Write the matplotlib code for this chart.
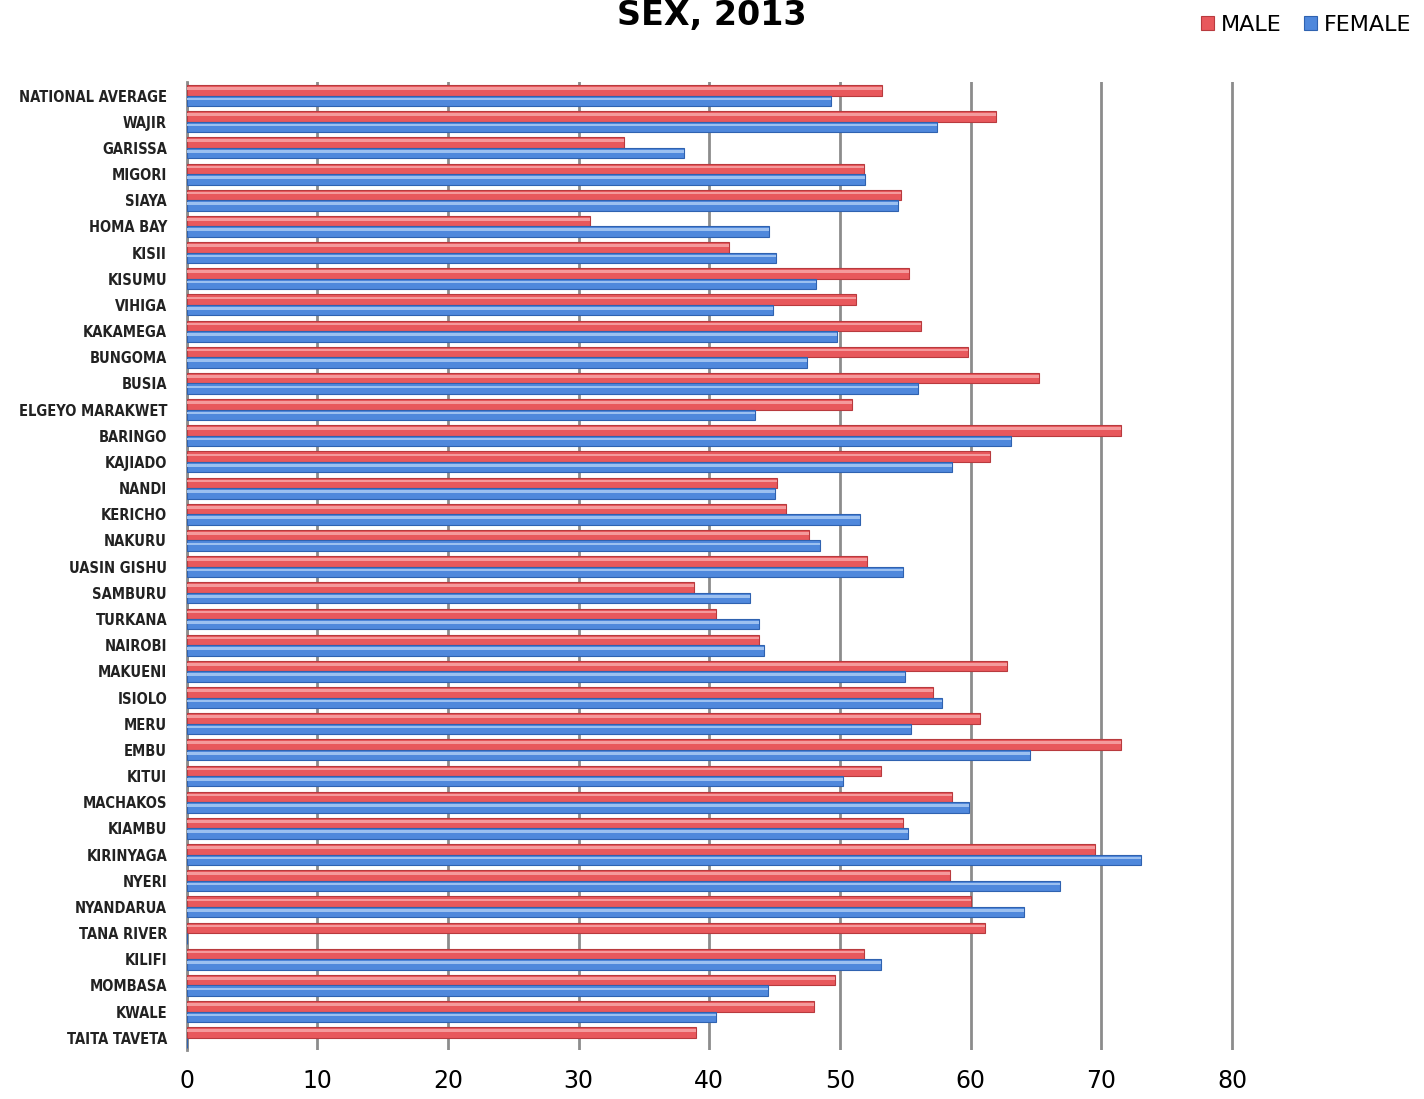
import numpy as np
import matplotlib.pyplot as plt

counties = ["NATIONAL AVERAGE", "WAJIR", "GARISSA", "MIGORI", "SIAYA", "HOMA BAY",
            "KISII", "KISUMU", "VIHIGA", "KAKAMEGA", "BUNGOMA", "BUSIA",
            "ELGEYO MARAKWET", "BARINGO", "KAJIADO", "NANDI", "KERICHO", "NAKURU",
            "UASIN GISHU", "SAMBURU", "TURKANA", "NAIROBI", "MAKUENI", "ISIOLO",
            "MERU", "EMBU", "KITUI", "MACHAKOS", "KIAMBU", "KIRINYAGA", "NYERI",
            "NYANDARUA", "TANA RIVER", "KILIFI", "MOMBASA", "KWALE", "TAITA TAVETA"]
male = [53.2, 61.9, 33.5, 51.8, 54.7, 30.9, 41.5, 55.3, 51.2, 56.2, 59.8, 65.2,
        50.9, 71.5, 61.5, 45.2, 45.9, 47.6, 52.1, 38.8, 40.5, 43.8, 62.8, 57.1,
        60.7, 71.5, 53.1, 58.6, 54.8, 69.5, 58.4, 60.0, 61.1, 51.8, 49.6, 48.0, 39.0]
female = [49.3, 57.4, 38.1, 51.9, 54.4, 44.6, 45.1, 48.2, 44.9, 49.8, 47.5, 56.0,
          43.5, 63.1, 58.6, 45.0, 51.5, 48.5, 54.8, 43.1, 43.8, 44.2, 55.0, 57.8,
          55.4, 64.5, 50.2, 59.9, 55.2, 73.0, 66.8, 64.1, 0, 53.1, 44.5, 40.5, 0]

fig = plt.figure(figsize=(14.24, 10.99), dpi=100)
ax = fig.add_axes([0.131, 0.045, 0.737, 0.88])

y = np.arange(len(counties))
h = 0.4
ax.barh(y - 0.2, male, height=h, color="#E8585C", edgecolor="#B83A3E", linewidth=0.8,
        label="MALE", zorder=3)
ax.barh(y + 0.2, female, height=h, color="#4F88DC", edgecolor="#2F62B0", linewidth=0.8,
        label="FEMALE", zorder=3)
# lighter highlight to fake the 3D look
ax.barh(y - 0.27, male, height=0.1, color="#F49A9C", linewidth=0, zorder=4)
ax.barh(y + 0.13, female, height=0.1, color="#9CC0F0", linewidth=0, zorder=4)

ax.set_xlim(0, 80.3)
ax.set_ylim(len(counties) - 0.55, -0.5)
ax.set_xticks(range(0, 81, 10))
ax.set_yticks(y)
ax.set_yticklabels(counties, fontsize=10.5, fontweight="bold", color="#222222",
                   fontstretch="condensed")
ax.tick_params(axis="y", length=0, pad=14)
ax.tick_params(axis="x", length=0, labelsize=17, pad=14)
ax.xaxis.grid(True, color="#8C8C8C", linewidth=2, zorder=0)
for s in ["top", "right", "bottom"]:
    ax.spines[s].set_visible(False)
ax.spines["left"].set_color("#8C8C8C")
ax.spines["left"].set_linewidth(2)

fig.text(0.5, 0.986, "SEX, 2013", ha="center", va="center", fontsize=24, fontweight="bold")
fig.legend(loc="upper right", bbox_to_anchor=(1.005, 1.005), ncol=2, frameon=False,
           fontsize=16, handlelength=0.6, handleheight=0.6, handletextpad=0.3,
           columnspacing=1.0)

plt.savefig("out.png")
